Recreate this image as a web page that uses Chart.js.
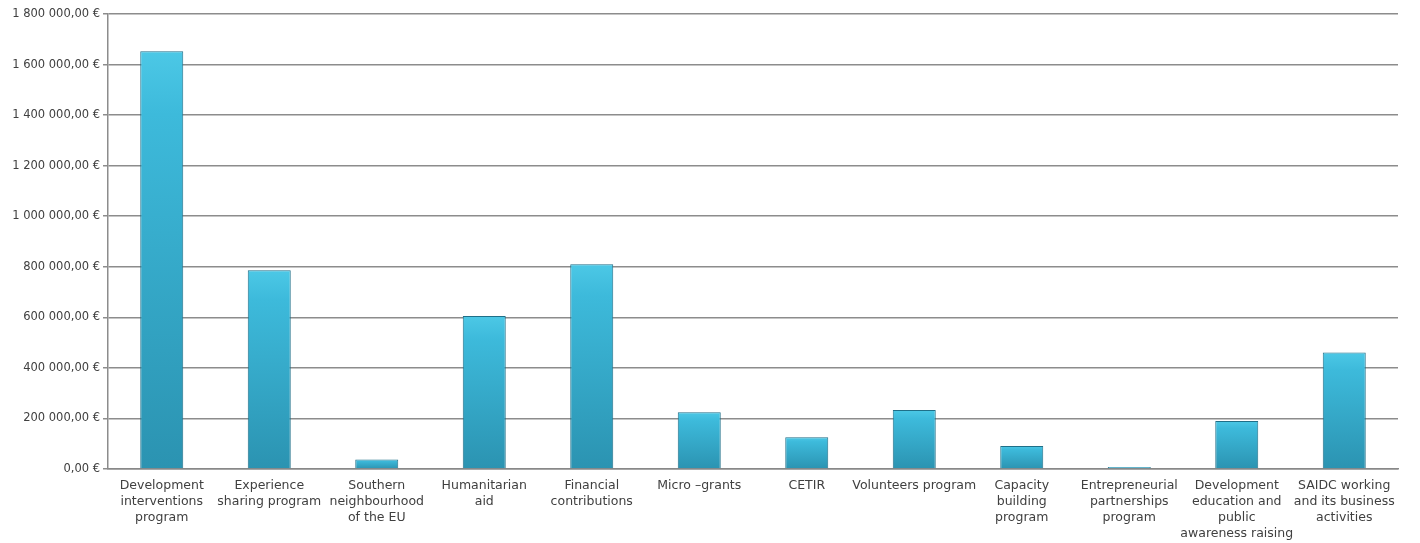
<!DOCTYPE html>
<html lang="en">
<head>
    <meta charset="UTF-8">
    <title>Budget by program</title>
    <script src="https://cdn.jsdelivr.net/npm/chart.js"></script>
    <style>
        body {
            margin: 0;
            background: #fff;
        }
        .wrap {
            width: 1420px;
            height: 543px;
        }
    </style>
</head>
<body>
    <div class="wrap"><canvas id="chart"></canvas></div>

    <script>
        const categories = [
            ['Development', 'interventions', 'program'],
            ['Experience', 'sharing program'],
            ['Southern', 'neighbourhood', 'of the EU'],
            ['Humanitarian', 'aid'],
            ['Financial', 'contributions'],
            'Micro \u2013grants',
            'CETIR',
            'Volunteers program',
            ['Capacity', 'building', 'program'],
            ['Entrepreneurial', 'partnerships', 'program'],
            ['Development', 'education and', 'public', 'awareness raising'],
            ['SAIDC working', 'and its business', 'activities']
        ];
        const amounts = [1653000, 786000, 38000, 605000, 810000, 225000, 126000, 233000, 91000, 8000, 190000, 461000];
        const yTicks = [0, 200000, 400000, 600000, 800000, 1000000, 1200000, 1400000, 1600000, 1800000];

        function euro(v) {
            const whole = Math.round(v).toString().replace(/\B(?=(\d{3})+(?!\d))/g, ' ');
            return whole + ',00 \u20AC';
        }

        function barFill(c) {
            const chart = c.chart;
            const y = chart.scales.y;
            if (!y || c.raw === undefined) return '#36aacb';
            const top = y.getPixelForValue(c.raw);
            const bottom = y.getPixelForValue(0);
            if (!isFinite(top) || !isFinite(bottom) || bottom - top < 1) return '#36aacb';
            const g = chart.ctx.createLinearGradient(0, top, 0, bottom);
            g.addColorStop(0, '#4cc8e6');
            g.addColorStop(0.15, '#3dbadb');
            g.addColorStop(1, '#2b93b1');
            return g;
        }

        new Chart(document.getElementById('chart'), {
            type: 'bar',
            data: {
                labels: categories,
                datasets: [{
                    data: amounts,
                    backgroundColor: barFill,
                    borderColor: '#1f6f88',
                    borderWidth: 1,
                    categoryPercentage: 0.8,
                    barPercentage: 0.5
                }]
            },
            options: {
                responsive: true,
                maintainAspectRatio: false,
                animation: false,
                layout: {
                    padding: { top: 14, right: 22, left: 0, bottom: 0 }
                },
                plugins: {
                    legend: { display: false },
                    tooltip: { enabled: false }
                },
                scales: {
                    x: {
                        grid: { display: false, drawTicks: false },
                        border: { color: '#888', width: 1.5 },
                        ticks: {
                            color: '#404040',
                            font: { family: 'DejaVu Sans', size: 12.5, lineHeight: 1.28 },
                            maxRotation: 0,
                            autoSkip: false,
                            padding: 9
                        },
                        afterFit: (s) => { s.height = 74; }
                    },
                    y: {
                        min: 0,
                        max: 1800000,
                        afterBuildTicks: (s) => { s.ticks = yTicks.map(v => ({ value: v })); },
                        grid: { color: '#8c8c8c', lineWidth: 1.5, tickLength: 5 },
                        border: { color: '#8c8c8c', width: 1.5 },
                        ticks: {
                            color: '#404040',
                            font: { family: 'DejaVu Sans', size: 11.5 },
                            padding: 3,
                            callback: (v) => euro(v)
                        },
                        afterFit: (s) => { s.width = 108; }
                    }
                }
            }
        });
    </script>
</body>
</html>
